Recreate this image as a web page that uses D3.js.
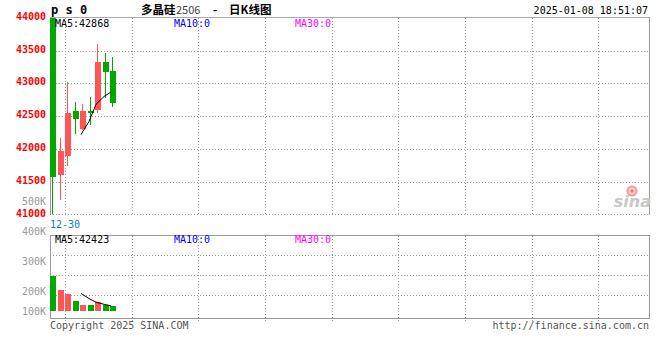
<!DOCTYPE html>
<html>
<head>
<meta charset="utf-8">
<script src="https://cdn.jsdelivr.net/npm/d3@7/dist/d3.min.js"></script>
<style>
html,body{margin:0;padding:0;background:#fff;}
svg{display:block;}
text{font-family:"DejaVu Sans Mono",monospace;font-size:10px;}
</style>
</head>
<body>
<svg id="chart" width="660" height="360"></svg>
<script>
// ---- data ----
const days   = [0,1,2,3,4,5,6,7,8];
const opens  = [44000, 41600, 41890, 42576, 42302, 42580, 42590, 43325, 43185];
const highs  = [44000, 42169, 43014, 42718, 42683, 42790, 43600, 43465, 43405];
const lows   = [41000, 41218, 41737, 42225, 42286, 42360, 42550, 42770, 42640];
const closes = [41577, 41966, 42546, 42454, 42576, 42545, 43325, 43175, 42700];
const volumes = [251000, 203000, 190000, 167000, 154000, 154000, 164000, 154000, 150000];
const ma5Days   = [4,5,6,7,8];
const ma5Price  = [42220, 42420, 42680, 42800, 42868];
const ma5Volume = [192000, 175000, 163000, 156000, 151000];
const priceTicks  = [44000, 43500, 43000, 42500, 42000, 41500, 41000];
const volumeTicks = [400000, 300000, 200000, 100000];
const volumeTickLabels = ["400K", "300K", "200K", "100K"];
const dateLabels = ["12-30"];
const priceMaLabels  = ["MA5:42868", "MA10:0", "MA30:0"];
const volumeMaLabels = ["MA5:42423", "MA10:0", "MA30:0"];

// ---- layout ----
const svg = d3.select("#chart");
const L = 50, R = 649.5;
const pTop = 17.5, pBot = 214.5;
const vTop = 235.5, vBot = 318.5, vBase = 311;
const UP = "#ff5555", DOWN = "#00a800";

svg.append("rect").attr("width",660).attr("height",360).attr("fill","#fff");

const x = d3.scaleBand().domain(d3.range(80)).range([L, L + 600]).paddingInner(0.2);
const yP = d3.scaleLinear().domain([41000, 44000]).range([pBot, pTop + 0.3]);
const yV = d3.scaleLinear().domain([200000, 400000]).range([291, 230.5]);

const gridX = d3.range(9).map(k => Math.round(65 + k * 66.67) + 0.5);

// ---- price panel grid ----
const grid = svg.append("g").attr("stroke","#999").attr("stroke-dasharray","1,2").attr("shape-rendering","crispEdges");
priceTicks.slice(1, -1).forEach(v => {
  const y = Math.round(yP(v)) + 0.5;
  grid.append("line").attr("x1",L).attr("x2",R).attr("y1",y).attr("y2",y);
});
gridX.forEach(gx => {
  grid.append("line").attr("x1",gx).attr("x2",gx).attr("y1",pTop).attr("y2",pBot);
  grid.append("line").attr("x1",gx).attr("x2",gx).attr("y1",vTop).attr("y2",vBot + 4);
});
grid.append("line").attr("x1",L).attr("x2",R).attr("y1",pBot).attr("y2",pBot);
// volume grid
[255.5, 275.5, 295.5].forEach(y => {
  grid.append("line").attr("x1",L).attr("x2",R).attr("y1",y).attr("y2",y);
});

// borders
const border = svg.append("g").attr("stroke","#999").attr("fill","none").attr("shape-rendering","crispEdges");
border.append("line").attr("x1",L).attr("x2",R).attr("y1",pTop).attr("y2",pTop).attr("stroke","#aaa");
border.append("line").attr("x1",L+0.5).attr("x2",L+0.5).attr("y1",pTop).attr("y2",pBot);
border.append("line").attr("x1",R).attr("x2",R).attr("y1",pTop).attr("y2",pBot);
border.append("line").attr("x1",L).attr("x2",R).attr("y1",vTop).attr("y2",vTop);
border.append("line").attr("x1",L+0.5).attr("x2",L+0.5).attr("y1",vTop).attr("y2",vBot);
border.append("line").attr("x1",R).attr("x2",R).attr("y1",vTop).attr("y2",vBot);
border.append("line").attr("x1",L).attr("x2",R).attr("y1",vBot).attr("y2",vBot);

// ---- sina logo ----
const logo = svg.append("g");
logo.append("circle").attr("cx",632).attr("cy",191).attr("r",4.5).attr("fill","#fbd0d0").attr("stroke","#f39a9a").attr("stroke-width",2);
logo.append("circle").attr("cx",632).attr("cy",191).attr("r",1.5).attr("fill","#e57070");
logo.append("text").attr("x",651).attr("y",207).attr("text-anchor","end")
  .style("font-family","DejaVu Sans").style("font-size","16px").style("font-style","italic").style("font-weight","bold")
  .attr("fill","#c8c8c8").text("sina");

// ---- candles ----
svg.append("clipPath").attr("id","pclip").append("rect").attr("x",L).attr("y",pTop).attr("width",R-L).attr("height",pBot-pTop);
const cg = svg.append("g").attr("clip-path","url(#pclip)").attr("shape-rendering","crispEdges");
days.forEach(i => {
  const o = opens[i], c = closes[i];
  const col = c >= o ? UP : DOWN;
  const left = Math.round(x(i));
  const wx = left + 2.5;
  cg.append("line").attr("x1",wx).attr("x2",wx).attr("y1",yP(highs[i])).attr("y2",yP(lows[i])).attr("stroke",col);
  const top = yP(Math.max(o,c)), bot = yP(Math.min(o,c));
  cg.append("rect").attr("x",left).attr("y",top).attr("width",6).attr("height",Math.max(1,bot-top)).attr("fill",col);
});
// price MA5
const line = d3.line().x(d => Math.round(x(d[0])) + 1).y(d => d[1]);
cg.append("path").attr("d", line(ma5Days.map((d,k) => [d, yP(ma5Price[k])])))
  .attr("fill","none").attr("stroke","#000").attr("stroke-width",1).attr("shape-rendering","auto");

// ---- volume ----
const vg = svg.append("g").attr("shape-rendering","crispEdges");
days.forEach(i => {
  const col = closes[i] >= opens[i] ? UP : DOWN;
  const left = Math.round(x(i));
  const top = yV(volumes[i]);
  vg.append("rect").attr("x",left).attr("y",top).attr("width",6).attr("height",vBase-top).attr("fill",col);
});
svg.append("path").attr("d", line(ma5Days.map((d,k) => [d, yV(ma5Volume[k])])))
  .attr("fill","none").attr("stroke","#000").attr("stroke-width",1);

// ---- axis labels ----
priceTicks.forEach(v => {
  svg.append("text").attr("x",46).attr("y",yP(v) + 2).attr("text-anchor","end")
    .attr("fill","#ff0000").style("font-weight","bold").text(v);
});
svg.append("text").attr("x",46).attr("y",204.5).attr("text-anchor","end").attr("fill","#999").text("500K");
volumeTicks.forEach((v,k) => {
  svg.append("text").attr("x",46).attr("y",Math.min(yV(v), vBase) + 4).attr("text-anchor","end")
    .attr("fill","#999").text(volumeTickLabels[k]);
});
dateLabels.forEach(d => {
  svg.append("text").attr("x",L).attr("y",228).attr("fill","#0a78c8").text(d);
});

// ---- MA labels ----
const maX = [55, 174, 295], maCol = ["#000", "#0000ff", "#ff00ff"];
priceMaLabels.forEach((t,k) => svg.append("text").attr("x",maX[k]).attr("y",27).attr("fill",maCol[k]).text(t));
volumeMaLabels.forEach((t,k) => svg.append("text").attr("x",maX[k]).attr("y",243).attr("fill",maCol[k]).text(t));

// ---- titles ----
svg.append("text").attr("x",51).attr("y",14).attr("fill","#000")
  .style("font-weight","bold").style("font-size","12px").text("p s 0");
const cjkFont = "'Noto Sans CJK SC'";
svg.append("text").attr("x",141).attr("y",14).style("font-family",cjkFont).style("font-size","11.5px").style("font-weight","bold").attr("fill","#000").text("多晶硅");
svg.append("text").attr("x",176).attr("y",14).style("font-family",cjkFont).style("font-size","11px").attr("fill","#444").text("2506");
svg.append("text").attr("x",213).attr("y",14).style("font-family",cjkFont).style("font-size","11.5px").style("font-weight","bold").attr("fill","#000").text("-");
svg.append("text").attr("x",229).attr("y",14).style("font-family",cjkFont).style("font-size","11.5px").style("font-weight","bold").attr("fill","#000").text("日K线图");
svg.append("text").attr("x",648).attr("y",14).attr("text-anchor","end").attr("fill","#000").text("2025-01-08 18:51:07");

// ---- footer ----
svg.append("text").attr("x",50).attr("y",329).attr("fill","#555").text("Copyright 2025 SINA.COM");
svg.append("text").attr("x",649).attr("y",329).attr("text-anchor","end").attr("fill","#555").text("http://finance.sina.com.cn");
</script>
</body>
</html>
